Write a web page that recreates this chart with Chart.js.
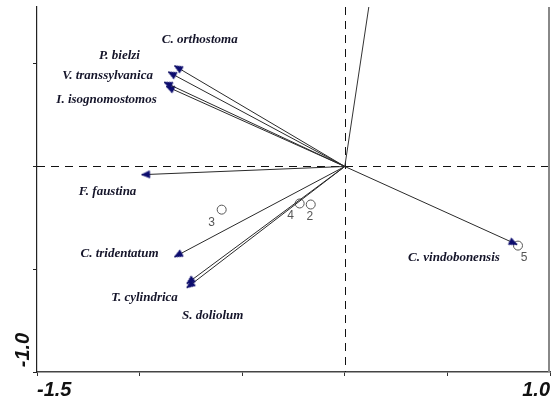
<!DOCTYPE html>
<html><head><meta charset="utf-8">
<script src="https://cdn.jsdelivr.net/npm/chart.js@4.4.0/dist/chart.umd.min.js"></script>
<style>html,body{margin:0;padding:0;background:#fff;overflow:hidden}</style>
</head><body>
<canvas id="c" width="551" height="402" style="display:block;width:551px;height:402px"></canvas>
<script>
// ---- data ----
const species  = ['C. orthostoma','P. bielzi','V. transsylvanica','I. isognomostomos','F. faustina','C. tridentatum','T. cylindrica','S. doliolum','C. vindobonensis'];
const speciesX = [-0.83,-0.86,-0.88,-0.87,-0.99,-0.83,-0.77,-0.77,0.84];
const speciesY = [0.49,0.46,0.41,0.39,-0.04,-0.44,-0.57,-0.59,-0.38];
const labelX   = [-0.707,-1.098,-1.156,-1.161,-1.156,-1.098,-0.976,-0.644,0.532];
const labelY   = [0.615,0.537,0.444,0.327,-0.122,-0.424,-0.639,-0.727,-0.444];
const envX = [0.117];
const envY = [0.776];
const samples  = ['2','3','4','5'];
const sampleX  = [-0.166,-0.60,-0.22,0.844];
const sampleY  = [-0.185,-0.21,-0.18,-0.385];
const xTicks = [-1.5,-1.0,-0.5,0,0.5,1.0];
const yTicks = [-1.0,-0.5,0,0.5];
const xMin=-1.5, xMax=1.0, yMin=-1.0, yMax=0.776;

// arrow head marker (tip at centre, pointing up)
function makeHead(){
  const c=document.createElement('canvas'); c.width=18; c.height=18;
  const g=c.getContext('2d');
  g.fillStyle='#0c0c6e'; g.strokeStyle='#0c0c6e'; g.lineWidth=0.8;
  g.beginPath(); g.moveTo(9,9); g.lineTo(5.5,17); g.lineTo(12.5,17); g.closePath(); g.fill(); g.stroke();
  return c;
}
const head = makeHead();

const datasets = [];
species.forEach((s,i)=>{
  const ang = Math.atan2(speciesX[i], speciesY[i])*180/Math.PI;
  datasets.push({
    label:s, data:[{x:0,y:0},{x:speciesX[i],y:speciesY[i]}],
    showLine:true, borderColor:'#2a2a2a', borderWidth:1,
    pointStyle:head, pointRadius:[0,4], pointHoverRadius:[0,4], pointRotation:[0,ang],
    order:1
  });
});
envX.forEach((v,i)=>{
  datasets.push({label:'env'+i, data:[{x:0,y:0},{x:envX[i],y:envY[i]}], showLine:true,
    borderColor:'#333', borderWidth:1, pointRadius:0, pointHoverRadius:0, order:1});
});
datasets.push({label:'samples', data:sampleX.map((x,i)=>({x, y:sampleY[i]})),
  showLine:false, pointStyle:'circle', pointRadius:4.5, pointHoverRadius:4.5,
  backgroundColor:'#fff', borderColor:'#555', borderWidth:1, order:2});

const overlay = {
  id:'overlay',
  beforeDatasetsDraw(chart){
    const {ctx, chartArea:a, scales:{x,y}} = chart;
    ctx.save();
    ctx.strokeStyle='#111'; ctx.lineWidth=1; ctx.setLineDash([8,6]);
    const py=Math.round(y.getPixelForValue(0))+0.5, px=Math.round(x.getPixelForValue(0))+0.5;
    ctx.beginPath(); ctx.moveTo(a.left,py); ctx.lineTo(a.right,py); ctx.stroke();
    ctx.beginPath(); ctx.moveTo(px,a.top); ctx.lineTo(px,a.bottom); ctx.stroke();
    ctx.setLineDash([]);
    ctx.strokeStyle='#888'; ctx.lineWidth=2;
    ctx.beginPath(); ctx.moveTo(a.right-1,a.top); ctx.lineTo(a.right-1,a.bottom); ctx.stroke();
    ctx.restore();
  },
  afterDatasetsDraw(chart){
    const {ctx, scales:{x,y}, chartArea:a} = chart;
    ctx.save();
    ctx.font='bold italic 13px "Liberation Serif", "DejaVu Serif", serif';
    ctx.fillStyle='#15152a'; ctx.textAlign='center'; ctx.textBaseline='middle';
    species.forEach((s,i)=>{
      ctx.fillText(s, x.getPixelForValue(labelX[i]), y.getPixelForValue(labelY[i]));
    });
    ctx.font='12px "Liberation Sans", Arial, sans-serif';
    ctx.fillStyle='#555';
    const off=[[-1,12],[-10,13],[-9,12],[6,12]];
    samples.forEach((s,i)=>{
      ctx.fillText(s, x.getPixelForValue(sampleX[i])+off[i][0], y.getPixelForValue(sampleY[i])+off[i][1]);
    });
    // y-axis extreme label
    ctx.font='bold italic 20px "Liberation Sans", Arial, sans-serif';
    ctx.fillStyle='#111';
    ctx.translate(a.left-14, y.getPixelForValue(yMin)-22);
    ctx.rotate(-Math.PI/2);
    ctx.fillText('-1.0',0,0);
    ctx.restore();
  }
};

new Chart(document.getElementById('c'), {
  type:'scatter',
  data:{datasets},
  options:{
    responsive:false, animation:false,
    layout:{autoPadding:false, padding:{top:7,right:1,left:0,bottom:0}},
    plugins:{legend:{display:false}, tooltip:{enabled:false}},
    scales:{
      x:{type:'linear', position:'bottom', min:xMin, max:xMax,
        afterBuildTicks(s){ s.ticks = xTicks.map(v=>({value:v})); },
        afterFit(s){ s.height = 30; s.paddingLeft = 0; s.paddingRight = 0; },
        grid:{display:true, drawOnChartArea:false, drawTicks:true, tickLength:4, color:'#333'},
        border:{display:true, color:'#444', width:1.5},
        ticks:{autoSkip:false, maxRotation:0, minRotation:0, align:'inner', padding:2, color:'#111',
          font:{family:'"Liberation Sans", Arial, sans-serif', size:20, weight:'bold', style:'italic'},
          callback:(v)=> v===xMin ? '-1.5' : (v===xMax ? '1.0' : '')}
      },
      y:{type:'linear', position:'left', min:yMin, max:yMax,
        afterBuildTicks(s){ s.ticks = yTicks.map(v=>({value:v})); },
        afterFit(s){ s.width = 37; s.paddingTop = 0; s.paddingBottom = 0; },
        grid:{display:true, drawOnChartArea:false, drawTicks:true, tickLength:4, color:'#222'},
        border:{display:true, color:'#222', width:1.2},
        ticks:{display:false}
      }
    }
  },
  plugins:[overlay]
});
</script>
</body></html>
